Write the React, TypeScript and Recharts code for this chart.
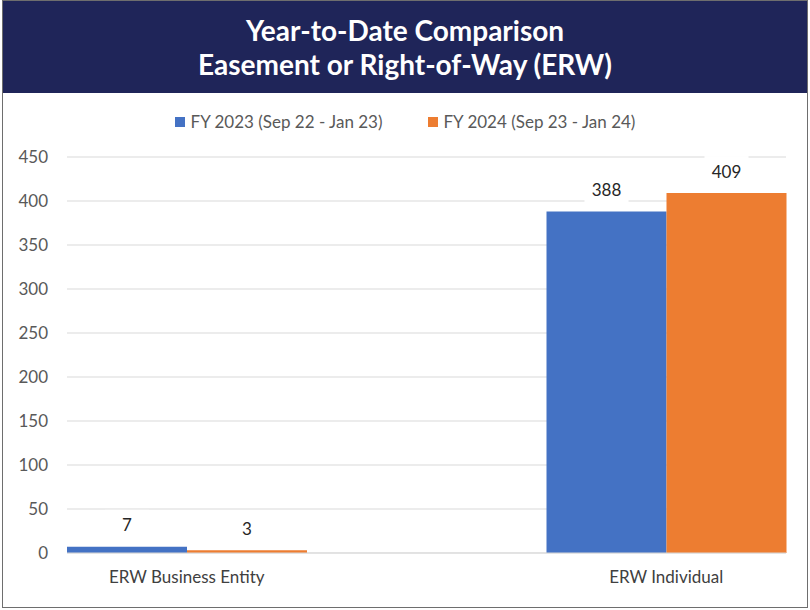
import { BarChart, Bar, XAxis, YAxis, CartesianGrid, Legend, LabelList } from 'recharts';

// Year-to-date ERW comparison, FY 2023 vs FY 2024

const categories = ['ERW Business Entity', 'ERW Individual'];
const fy2023 = [7, 388];
const fy2024 = [3, 409];
const yTicks = [0, 50, 100, 150, 200, 250, 300, 350, 400, 450];

const seriesNames = ['FY 2023 (Sep 22 - Jan 23)', 'FY 2024 (Sep 23 - Jan 24)'];
const seriesColors = ['#4472C4', '#ED7D31'];

const data = categories.map((name, i) => ({ name, fy2023: fy2023[i], fy2024: fy2024[i] }));

const FONT = 'Lato, "Open Sans", sans-serif';

// value label with a white box behind it (breaks the gridline like the original)
function ValueLabel(props: any) {
  const { x, y, width, value } = props;
  const cx = x + width / 2;
  const cy = y - 22;
  return (
    <g>
      <rect x={cx - 22} y={cy - 15} width={44} height={30} fill="#ffffff" />
      <text x={cx} y={cy} textAnchor="middle" dominantBaseline="central" fill="#262626" fontSize={17} fontFamily={FONT}>
        {value}
      </text>
    </g>
  );
}

function LegendContent() {
  return (
    <div style={{ display: 'flex', justifyContent: 'center', gap: 45, fontFamily: FONT, fontSize: 17, color: '#595959', lineHeight: '20px' }}>
      {seriesNames.map((n, i) => (
        <div key={n} style={{ display: 'flex', alignItems: 'center' }}>
          <span style={{ width: 10, height: 10, background: seriesColors[i], marginRight: 6, display: 'inline-block' }} />
          <span>{n}</span>
        </div>
      ))}
    </div>
  );
}

export default function App() {
  return (
    <div style={{ position: 'absolute', left: 0, top: 0, width: 810, height: 610, background: '#fff' }}>
      <div style={{ position: 'absolute', left: 2, top: 0, width: 806, height: 608, border: '1px solid #6e6e6e', boxSizing: 'border-box' }}>
        <div
          style={{
            height: 92,
            background: '#1F2559',
            color: '#fff',
            fontFamily: FONT,
            fontWeight: 700,
            fontSize: 28,
            lineHeight: '34px',
            textAlign: 'center',
            paddingTop: 12,
            boxSizing: 'border-box',
          }}
        >
          Year-to-Date Comparison
          <br />
          Easement or Right-of-Way (ERW)
        </div>
        <BarChart
          width={804}
          height={514}
          data={data}
          margin={{ top: 64, right: 21, bottom: 24, left: 14 }}
          barGap={0}
          barSize={120}
        >
          <CartesianGrid stroke="#d9d9d9" vertical={false} />
          <XAxis
            dataKey="name"
            padding={{ left: -120, right: -120 }}
            axisLine={{ stroke: '#d9d9d9' }}
            tickLine={false}
            tickMargin={12}
            tick={{ fill: '#404040', fontSize: 17, fontFamily: FONT }}
          />
          <YAxis
            width={50}
            domain={[0, 450]}
            ticks={yTicks}
            axisLine={false}
            tickLine={false}
            tickMargin={13}
            tick={{ fill: '#595959', fontSize: 17, fontFamily: FONT }}
          />
          <Legend
            verticalAlign="middle"
            align="center"
            wrapperStyle={{ top: 19, left: 0, width: 804 }}
            content={<LegendContent />}
          />
          <Bar dataKey="fy2023" name={seriesNames[0]} fill={seriesColors[0]} isAnimationActive={false}>
            <LabelList dataKey="fy2023" content={<ValueLabel />} />
          </Bar>
          <Bar dataKey="fy2024" name={seriesNames[1]} fill={seriesColors[1]} isAnimationActive={false}>
            <LabelList dataKey="fy2024" content={<ValueLabel />} />
          </Bar>
        </BarChart>
      </div>
    </div>
  );
}
